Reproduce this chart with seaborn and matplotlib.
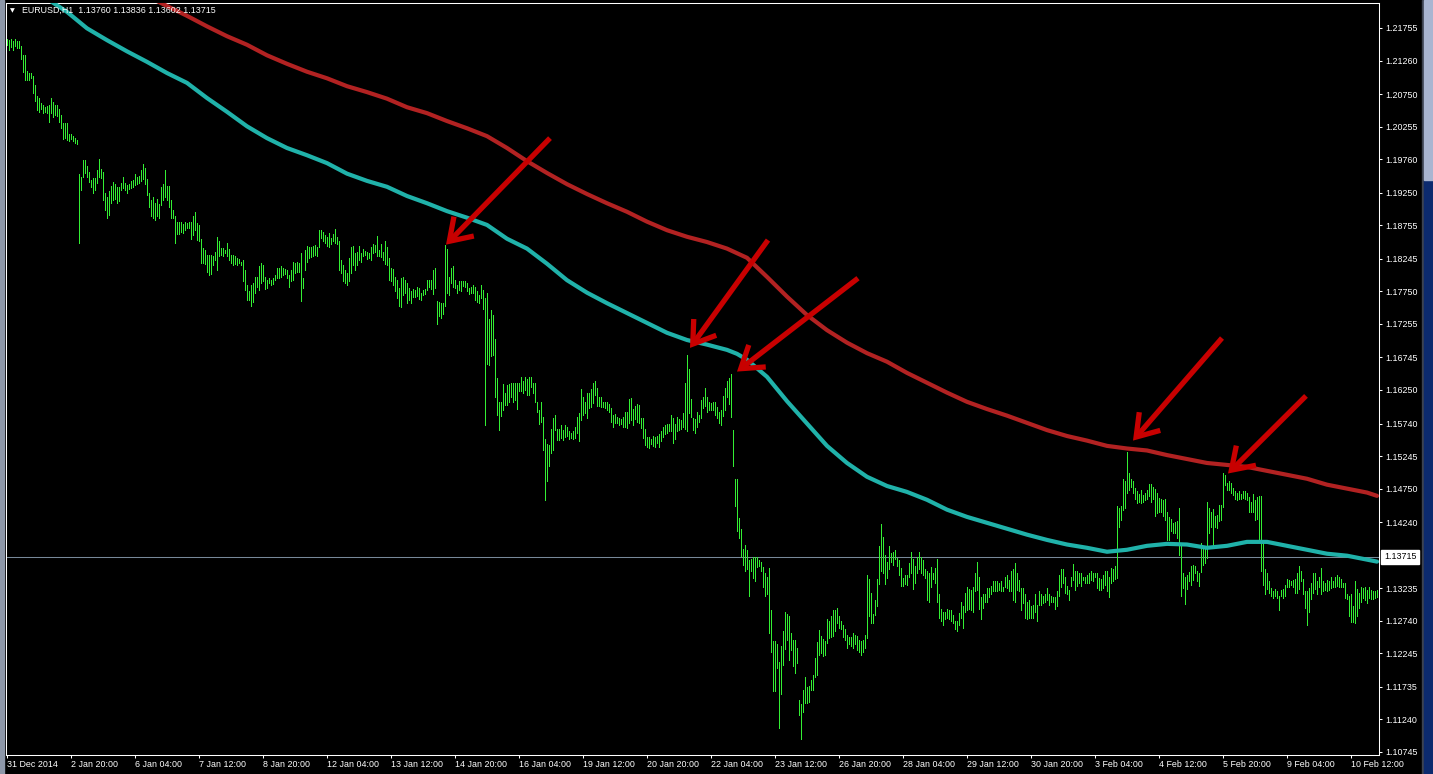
###### Libraries

import pandas as pd
import matplotlib
matplotlib.use("Agg")
import matplotlib.pyplot as plt
from matplotlib.patches import Rectangle
import seaborn as sns

###### Data (EURUSD H1)

high = [
    1.2158, 1.2157, 1.2158, 1.2156, 1.2158, 1.2155, 1.2156, 1.2148, 1.2134, 1.2134,
    1.2110, 1.2107, 1.2107, 1.2102, 1.2089, 1.2072, 1.2069, 1.2061, 1.2058, 1.2055,
    1.2057, 1.2058, 1.2069, 1.2063, 1.2058, 1.2058, 1.2053, 1.2043, 1.2031, 1.2031,
    1.2031, 1.2015, 1.2014, 1.2011, 1.2008, 1.2005, 1.1954, 1.1949, 1.1975, 1.1974,
    1.1966, 1.1957, 1.1944, 1.1947, 1.1947, 1.1960, 1.1976, 1.1961, 1.1957, 1.1925,
    1.1919, 1.1928, 1.1935, 1.1942, 1.1938, 1.1934, 1.1934, 1.1940, 1.1949, 1.1940,
    1.1937, 1.1939, 1.1943, 1.1944, 1.1954, 1.1949, 1.1951, 1.1959, 1.1969, 1.1962,
    1.1946, 1.1924, 1.1914, 1.1919, 1.1910, 1.1915, 1.1908, 1.1933, 1.1939, 1.1959,
    1.1935, 1.1935, 1.1914, 1.1899, 1.1890, 1.1880, 1.1880, 1.1880, 1.1878, 1.1880,
    1.1879, 1.1880, 1.1880, 1.1890, 1.1896, 1.1879, 1.1876, 1.1854, 1.1841, 1.1838,
    1.1830, 1.1830, 1.1830, 1.1828, 1.1835, 1.1857, 1.1851, 1.1841, 1.1841, 1.1838,
    1.1848, 1.1839, 1.1830, 1.1830, 1.1828, 1.1825, 1.1824, 1.1820, 1.1823, 1.1807,
    1.1785, 1.1776, 1.1785, 1.1788, 1.1797, 1.1797, 1.1813, 1.1818, 1.1815, 1.1797,
    1.1793, 1.1795, 1.1793, 1.1796, 1.1800, 1.1810, 1.1810, 1.1813, 1.1810, 1.1809,
    1.1808, 1.1800, 1.1808, 1.1819, 1.1818, 1.1820, 1.1818, 1.1833, 1.1795, 1.1838,
    1.1844, 1.1843, 1.1843, 1.1844, 1.1846, 1.1843, 1.1868, 1.1868, 1.1866, 1.1861,
    1.1858, 1.1863, 1.1856, 1.1862, 1.1870, 1.1857, 1.1852, 1.1823, 1.1815, 1.1808,
    1.1803, 1.1825, 1.1843, 1.1844, 1.1833, 1.1835, 1.1844, 1.1833, 1.1839, 1.1837,
    1.1835, 1.1833, 1.1842, 1.1847, 1.1846, 1.1859, 1.1838, 1.1847, 1.1835, 1.1851,
    1.1843, 1.1825, 1.1810, 1.1809, 1.1797, 1.1792, 1.1780, 1.1795, 1.1797, 1.1793,
    1.1787, 1.1780, 1.1775, 1.1778, 1.1777, 1.1782, 1.1780, 1.1773, 1.1777, 1.1778,
    1.1793, 1.1793, 1.1793, 1.1808, 1.1810, 1.1761, 1.1759, 1.1758, 1.1757, 1.1846,
    1.1839, 1.1797, 1.1810, 1.1814, 1.1793, 1.1785, 1.1791, 1.1790, 1.1791, 1.1790,
    1.1788, 1.1780, 1.1782, 1.1785, 1.1782, 1.1776, 1.1770, 1.1785, 1.1777, 1.1765,
    1.1772, 1.1733, 1.1746, 1.1739, 1.1702, 1.1643, 1.1607, 1.1607, 1.1634, 1.1620,
    1.1633, 1.1634, 1.1636, 1.1636, 1.1636, 1.1635, 1.1636, 1.1645, 1.1639, 1.1645,
    1.1642, 1.1645, 1.1645, 1.1635, 1.1635, 1.1606, 1.1595, 1.1606, 1.1584, 1.1550,
    1.1543, 1.1542, 1.1566, 1.1582, 1.1587, 1.1566, 1.1566, 1.1572, 1.1564, 1.1572,
    1.1569, 1.1562, 1.1560, 1.1562, 1.1568, 1.1584, 1.1590, 1.1626, 1.1615, 1.1607,
    1.1620, 1.1621, 1.1626, 1.1636, 1.1638, 1.1628, 1.1615, 1.1614, 1.1607, 1.1606,
    1.1607, 1.1604, 1.1597, 1.1587, 1.1589, 1.1584, 1.1582, 1.1581, 1.1584, 1.1591,
    1.1592, 1.1611, 1.1613, 1.1596, 1.1600, 1.1604, 1.1602, 1.1582, 1.1582, 1.1566,
    1.1553, 1.1553, 1.1550, 1.1555, 1.1554, 1.1555, 1.1558, 1.1563, 1.1568, 1.1572,
    1.1574, 1.1574, 1.1587, 1.1582, 1.1574, 1.1584, 1.1581, 1.1579, 1.1590, 1.1635,
    1.1678, 1.1657, 1.1611, 1.1582, 1.1581, 1.1592, 1.1587, 1.1610, 1.1615, 1.1628,
    1.1615, 1.1606, 1.1605, 1.1606, 1.1607, 1.1599, 1.1591, 1.1595, 1.1616, 1.1628,
    1.1638, 1.1643, 1.1650, 1.1564, 1.1490, 1.1490, 1.1430, 1.1414, 1.1383, 1.1390,
    1.1381, 1.1366, 1.1368, 1.1371, 1.1371, 1.1371, 1.1367, 1.1364, 1.1356, 1.1346,
    1.1341, 1.1354, 1.1290, 1.1244, 1.1244, 1.1238, 1.1212, 1.1235, 1.1259, 1.1287,
    1.1285, 1.1282, 1.1256, 1.1245, 1.1245, 1.1233, 1.1154, 1.1148, 1.1168, 1.1189,
    1.1174, 1.1175, 1.1184, 1.1192, 1.1217, 1.1241, 1.1260, 1.1251, 1.1246, 1.1243,
    1.1276, 1.1273, 1.1282, 1.1290, 1.1290, 1.1293, 1.1281, 1.1273, 1.1268, 1.1261,
    1.1253, 1.1250, 1.1250, 1.1256, 1.1253, 1.1251, 1.1245, 1.1244, 1.1245, 1.1253,
    1.1344, 1.1337, 1.1316, 1.1285, 1.1306, 1.1337, 1.1387, 1.1421, 1.1402, 1.1374,
    1.1364, 1.1388, 1.1377, 1.1379, 1.1381, 1.1369, 1.1366, 1.1354, 1.1339, 1.1343,
    1.1343, 1.1362, 1.1379, 1.1368, 1.1357, 1.1371, 1.1379, 1.1371, 1.1366, 1.1353,
    1.1350, 1.1347, 1.1356, 1.1347, 1.1354, 1.1368, 1.1314, 1.1292, 1.1288, 1.1288,
    1.1292, 1.1291, 1.1291, 1.1283, 1.1274, 1.1273, 1.1286, 1.1302, 1.1297, 1.1316,
    1.1325, 1.1322, 1.1321, 1.1326, 1.1347, 1.1364, 1.1341, 1.1310, 1.1314, 1.1315,
    1.1324, 1.1324, 1.1327, 1.1335, 1.1334, 1.1334, 1.1331, 1.1334, 1.1326, 1.1341,
    1.1343, 1.1336, 1.1349, 1.1353, 1.1362, 1.1347, 1.1336, 1.1324, 1.1324, 1.1314,
    1.1303, 1.1306, 1.1296, 1.1298, 1.1314, 1.1298, 1.1319, 1.1315, 1.1312, 1.1314,
    1.1324, 1.1314, 1.1311, 1.1310, 1.1310, 1.1319, 1.1343, 1.1352, 1.1353, 1.1341,
    1.1327, 1.1321, 1.1341, 1.1361, 1.1349, 1.1349, 1.1347, 1.1347, 1.1341, 1.1341,
    1.1344, 1.1347, 1.1349, 1.1347, 1.1347, 1.1346, 1.1339, 1.1337, 1.1344, 1.1349,
    1.1350, 1.1341, 1.1354, 1.1353, 1.1357, 1.1448, 1.1445, 1.1448, 1.1490, 1.1486,
    1.1531, 1.1499, 1.1490, 1.1486, 1.1476, 1.1471, 1.1467, 1.1473, 1.1466, 1.1469,
    1.1473, 1.1482, 1.1482, 1.1478, 1.1474, 1.1469, 1.1461, 1.1459, 1.1458, 1.1459,
    1.1440, 1.1432, 1.1429, 1.1423, 1.1424, 1.1425, 1.1445, 1.1391, 1.1347, 1.1341,
    1.1344, 1.1348, 1.1358, 1.1359, 1.1358, 1.1349, 1.1347, 1.1393, 1.1386, 1.1386,
    1.1455, 1.1445, 1.1439, 1.1444, 1.1434, 1.1435, 1.1450, 1.1450, 1.1498, 1.1495,
    1.1483, 1.1486, 1.1484, 1.1476, 1.1471, 1.1469, 1.1471, 1.1467, 1.1471, 1.1471,
    1.1468, 1.1462, 1.1455, 1.1467, 1.1458, 1.1463, 1.1464, 1.1464, 1.1393, 1.1352,
    1.1347, 1.1334, 1.1324, 1.1319, 1.1322, 1.1319, 1.1311, 1.1321, 1.1322, 1.1329,
    1.1337, 1.1336, 1.1335, 1.1336, 1.1337, 1.1347, 1.1358, 1.1349, 1.1337, 1.1320,
    1.1319, 1.1324, 1.1332, 1.1346, 1.1347, 1.1334, 1.1341, 1.1354, 1.1334, 1.1331,
    1.1336, 1.1334, 1.1341, 1.1334, 1.1341, 1.1344, 1.1341, 1.1337, 1.1331, 1.1332,
    1.1315, 1.1312, 1.1314, 1.1297, 1.1335, 1.1322, 1.1316, 1.1325, 1.1324, 1.1325,
    1.1321, 1.1326, 1.1321, 1.1320, 1.1319, 1.1321,
]

low = [
    1.2149, 1.2142, 1.2146, 1.2142, 1.2148, 1.2145, 1.2145, 1.2129, 1.2109, 1.2096,
    1.2096, 1.2097, 1.2099, 1.2077, 1.2065, 1.2051, 1.2047, 1.2052, 1.2046, 1.2048,
    1.2046, 1.2033, 1.2046, 1.2040, 1.2043, 1.2041, 1.2033, 1.2024, 1.2007, 1.2008,
    1.2005, 1.2003, 1.2006, 1.2004, 1.2000, 1.1999, 1.1849, 1.1929, 1.1949, 1.1955,
    1.1949, 1.1942, 1.1934, 1.1924, 1.1929, 1.1940, 1.1949, 1.1947, 1.1914, 1.1899,
    1.1886, 1.1891, 1.1909, 1.1914, 1.1915, 1.1909, 1.1913, 1.1929, 1.1932, 1.1929,
    1.1925, 1.1931, 1.1932, 1.1934, 1.1937, 1.1938, 1.1940, 1.1943, 1.1946, 1.1939,
    1.1922, 1.1904, 1.1889, 1.1886, 1.1883, 1.1889, 1.1886, 1.1906, 1.1914, 1.1919,
    1.1914, 1.1904, 1.1887, 1.1886, 1.1848, 1.1862, 1.1862, 1.1866, 1.1864, 1.1868,
    1.1871, 1.1871, 1.1854, 1.1861, 1.1868, 1.1853, 1.1851, 1.1818, 1.1818, 1.1817,
    1.1805, 1.1800, 1.1802, 1.1815, 1.1823, 1.1808, 1.1829, 1.1830, 1.1829, 1.1833,
    1.1829, 1.1823, 1.1818, 1.1815, 1.1817, 1.1815, 1.1818, 1.1815, 1.1790, 1.1777,
    1.1762, 1.1762, 1.1752, 1.1759, 1.1772, 1.1782, 1.1777, 1.1787, 1.1791, 1.1778,
    1.1780, 1.1787, 1.1785, 1.1786, 1.1792, 1.1795, 1.1795, 1.1797, 1.1800, 1.1802,
    1.1796, 1.1782, 1.1790, 1.1793, 1.1803, 1.1805, 1.1805, 1.1761, 1.1780, 1.1808,
    1.1820, 1.1825, 1.1827, 1.1828, 1.1830, 1.1829, 1.1843, 1.1856, 1.1851, 1.1848,
    1.1844, 1.1843, 1.1847, 1.1851, 1.1848, 1.1847, 1.1808, 1.1803, 1.1791, 1.1787,
    1.1785, 1.1790, 1.1803, 1.1815, 1.1807, 1.1815, 1.1823, 1.1820, 1.1829, 1.1830,
    1.1824, 1.1825, 1.1822, 1.1833, 1.1835, 1.1829, 1.1829, 1.1827, 1.1823, 1.1817,
    1.1815, 1.1792, 1.1790, 1.1785, 1.1775, 1.1765, 1.1753, 1.1751, 1.1770, 1.1772,
    1.1758, 1.1762, 1.1757, 1.1767, 1.1766, 1.1768, 1.1763, 1.1762, 1.1770, 1.1771,
    1.1777, 1.1782, 1.1778, 1.1771, 1.1780, 1.1726, 1.1737, 1.1734, 1.1741, 1.1753,
    1.1772, 1.1770, 1.1788, 1.1782, 1.1780, 1.1773, 1.1777, 1.1775, 1.1783, 1.1782,
    1.1776, 1.1771, 1.1772, 1.1773, 1.1762, 1.1759, 1.1757, 1.1765, 1.1748, 1.1572,
    1.1665, 1.1663, 1.1677, 1.1678, 1.1615, 1.1587, 1.1564, 1.1585, 1.1595, 1.1602,
    1.1602, 1.1606, 1.1615, 1.1607, 1.1610, 1.1596, 1.1623, 1.1624, 1.1620, 1.1625,
    1.1618, 1.1618, 1.1630, 1.1620, 1.1607, 1.1591, 1.1574, 1.1577, 1.1534, 1.1457,
    1.1486, 1.1509, 1.1529, 1.1534, 1.1564, 1.1549, 1.1549, 1.1552, 1.1549, 1.1554,
    1.1555, 1.1550, 1.1552, 1.1551, 1.1552, 1.1559, 1.1548, 1.1580, 1.1587, 1.1590,
    1.1582, 1.1597, 1.1599, 1.1605, 1.1618, 1.1600, 1.1600, 1.1599, 1.1599, 1.1597,
    1.1594, 1.1591, 1.1577, 1.1568, 1.1575, 1.1575, 1.1572, 1.1574, 1.1569, 1.1569,
    1.1567, 1.1575, 1.1580, 1.1572, 1.1581, 1.1577, 1.1575, 1.1567, 1.1552, 1.1542,
    1.1539, 1.1537, 1.1543, 1.1540, 1.1538, 1.1544, 1.1539, 1.1547, 1.1554, 1.1558,
    1.1559, 1.1562, 1.1562, 1.1544, 1.1550, 1.1562, 1.1564, 1.1566, 1.1569, 1.1566,
    1.1562, 1.1590, 1.1584, 1.1564, 1.1559, 1.1569, 1.1577, 1.1582, 1.1597, 1.1600,
    1.1592, 1.1595, 1.1594, 1.1595, 1.1587, 1.1582, 1.1575, 1.1572, 1.1585, 1.1595,
    1.1615, 1.1604, 1.1584, 1.1509, 1.1449, 1.1411, 1.1400, 1.1373, 1.1359, 1.1349,
    1.1352, 1.1312, 1.1349, 1.1339, 1.1335, 1.1356, 1.1357, 1.1349, 1.1326, 1.1311,
    1.1315, 1.1255, 1.1227, 1.1167, 1.1167, 1.1202, 1.1111, 1.1162, 1.1207, 1.1231,
    1.1245, 1.1215, 1.1230, 1.1205, 1.1195, 1.1210, 1.1130, 1.1094, 1.1135, 1.1149,
    1.1149, 1.1151, 1.1168, 1.1169, 1.1189, 1.1192, 1.1222, 1.1225, 1.1220, 1.1222,
    1.1240, 1.1248, 1.1250, 1.1251, 1.1258, 1.1271, 1.1263, 1.1261, 1.1250, 1.1245,
    1.1233, 1.1238, 1.1235, 1.1233, 1.1238, 1.1230, 1.1227, 1.1222, 1.1227, 1.1233,
    1.1248, 1.1281, 1.1271, 1.1271, 1.1283, 1.1296, 1.1330, 1.1349, 1.1347, 1.1330,
    1.1339, 1.1353, 1.1363, 1.1359, 1.1368, 1.1358, 1.1344, 1.1327, 1.1327, 1.1330,
    1.1329, 1.1341, 1.1347, 1.1323, 1.1332, 1.1347, 1.1353, 1.1347, 1.1344, 1.1339,
    1.1305, 1.1303, 1.1326, 1.1337, 1.1331, 1.1303, 1.1278, 1.1273, 1.1268, 1.1276,
    1.1278, 1.1277, 1.1273, 1.1271, 1.1261, 1.1258, 1.1268, 1.1278, 1.1263, 1.1288,
    1.1291, 1.1292, 1.1291, 1.1288, 1.1319, 1.1321, 1.1292, 1.1276, 1.1293, 1.1302,
    1.1303, 1.1310, 1.1314, 1.1319, 1.1320, 1.1319, 1.1321, 1.1319, 1.1319, 1.1325,
    1.1324, 1.1319, 1.1320, 1.1305, 1.1302, 1.1321, 1.1319, 1.1290, 1.1301, 1.1278,
    1.1277, 1.1278, 1.1278, 1.1278, 1.1288, 1.1273, 1.1298, 1.1298, 1.1301, 1.1303,
    1.1306, 1.1298, 1.1302, 1.1302, 1.1292, 1.1296, 1.1311, 1.1325, 1.1332, 1.1317,
    1.1314, 1.1306, 1.1327, 1.1336, 1.1321, 1.1327, 1.1331, 1.1327, 1.1336, 1.1331,
    1.1331, 1.1332, 1.1336, 1.1335, 1.1341, 1.1324, 1.1321, 1.1321, 1.1324, 1.1329,
    1.1320, 1.1310, 1.1331, 1.1334, 1.1337, 1.1339, 1.1417, 1.1428, 1.1442, 1.1445,
    1.1468, 1.1473, 1.1478, 1.1469, 1.1459, 1.1453, 1.1454, 1.1453, 1.1454, 1.1457,
    1.1459, 1.1464, 1.1455, 1.1459, 1.1434, 1.1438, 1.1440, 1.1439, 1.1433, 1.1427,
    1.1397, 1.1397, 1.1410, 1.1408, 1.1408, 1.1400, 1.1374, 1.1312, 1.1324, 1.1300,
    1.1322, 1.1334, 1.1329, 1.1336, 1.1347, 1.1334, 1.1327, 1.1348, 1.1359, 1.1362,
    1.1369, 1.1407, 1.1417, 1.1390, 1.1417, 1.1415, 1.1425, 1.1428, 1.1447, 1.1481,
    1.1473, 1.1473, 1.1469, 1.1466, 1.1459, 1.1458, 1.1459, 1.1459, 1.1461, 1.1459,
    1.1457, 1.1440, 1.1440, 1.1439, 1.1428, 1.1429, 1.1395, 1.1349, 1.1329, 1.1314,
    1.1322, 1.1316, 1.1311, 1.1309, 1.1311, 1.1309, 1.1291, 1.1311, 1.1309, 1.1311,
    1.1326, 1.1326, 1.1329, 1.1326, 1.1316, 1.1316, 1.1322, 1.1334, 1.1314, 1.1293,
    1.1267, 1.1287, 1.1307, 1.1316, 1.1322, 1.1314, 1.1326, 1.1315, 1.1320, 1.1321,
    1.1319, 1.1321, 1.1324, 1.1325, 1.1326, 1.1327, 1.1326, 1.1326, 1.1326, 1.1309,
    1.1307, 1.1282, 1.1272, 1.1272, 1.1270, 1.1281, 1.1293, 1.1302, 1.1309, 1.1306,
    1.1301, 1.1309, 1.1307, 1.1307, 1.1309, 1.1310,
]

# moving averages, read every 10 bars
ma_fast_bar = [20, 30, 40, 50, 60, 70, 80, 90, 100, 110, 120, 130, 140, 150, 160, 170, 180, 190, 200,
               210, 220, 230, 240, 250, 260, 270, 280, 290, 300, 310, 320, 330, 340, 350, 360, 365,
               370, 380, 390, 400, 410, 420, 430, 440, 450, 460, 470, 480, 490, 500, 510, 520, 530,
               540, 550, 560, 570, 580, 590, 600, 610, 620, 630, 640, 650, 660, 670, 680, 685]
ma_fast = [1.2220, 1.2200, 1.2175, 1.2157, 1.2140, 1.2124, 1.2107, 1.2092, 1.2069, 1.2048, 1.2026,
           1.2008, 1.1993, 1.1982, 1.1970, 1.1954, 1.1943, 1.1934, 1.1920, 1.1909, 1.1897, 1.1887,
           1.1876, 1.1855, 1.1840, 1.1817, 1.1792, 1.1773, 1.1757, 1.1742, 1.1727, 1.1712, 1.1701,
           1.1694, 1.1686, 1.1680, 1.1671, 1.1645, 1.1608, 1.1574, 1.1540, 1.1514, 1.1493, 1.1479,
           1.1470, 1.1458, 1.1443, 1.1432, 1.1423, 1.1414, 1.1405, 1.1397, 1.1390, 1.1385, 1.1379,
           1.1382, 1.1388, 1.1391, 1.1390, 1.1385, 1.1388, 1.1394, 1.1394, 1.1388, 1.1382, 1.1376,
           1.1373, 1.1367, 1.1364]

ma_slow_bar = [72, 80, 90, 100, 110, 120, 130, 140, 150, 160, 170, 180, 190, 200, 210, 220, 230, 240,
               250, 260, 270, 280, 290, 300, 310, 320, 330, 340, 350, 360, 370, 380, 390, 400, 410,
               420, 430, 440, 450, 460, 470, 480, 490, 500, 510, 520, 530, 540, 550, 560, 570, 580,
               590, 600, 610, 620, 630, 640, 650, 660, 670, 680, 685]
ma_slow = [1.2221, 1.2209, 1.2194, 1.2178, 1.2163, 1.2150, 1.2134, 1.2121, 1.2109, 1.2099, 1.2087,
           1.2078, 1.2068, 1.2055, 1.2046, 1.2034, 1.2023, 1.2011, 1.1993, 1.1973, 1.1955, 1.1938,
           1.1923, 1.1909, 1.1896, 1.1881, 1.1868, 1.1858, 1.1850, 1.1840, 1.1826, 1.1797, 1.1767,
           1.1739, 1.1716, 1.1697, 1.1681, 1.1668, 1.1651, 1.1636, 1.1621, 1.1607, 1.1596, 1.1586,
           1.1575, 1.1564, 1.1555, 1.1548, 1.1540, 1.1536, 1.1533, 1.1526, 1.1520, 1.1514, 1.1511,
           1.1508, 1.1502, 1.1496, 1.1490, 1.1481, 1.1475, 1.1469, 1.1464]

# hand drawn arrows: (tail bar, tail price, head bar, head price)
arrows = [
    (271.5, 1.2008, 219.5, 1.1846),
    (380.5, 1.1853, 341.5, 1.1689),
    (425.5, 1.1795, 365.0, 1.1653),
    (607.5, 1.1704, 563.0, 1.1548),
    (649.5, 1.1616, 610.5, 1.1498),
]

bid = 1.13715
header = "EURUSD,H1  1.13760 1.13836 1.13602 1.13715"

y_labels = ["1.21755", "1.21260", "1.20750", "1.20255", "1.19760", "1.19250", "1.18755",
            "1.18245", "1.17750", "1.17255", "1.16745", "1.16250", "1.15740", "1.15245",
            "1.14750", "1.14240", "1.13235", "1.12740", "1.12245", "1.11735", "1.11240",
            "1.10745"]

x_labels = ["31 Dec 2014", "2 Jan 20:00", "6 Jan 04:00", "7 Jan 12:00", "8 Jan 20:00",
            "12 Jan 04:00", "13 Jan 12:00", "14 Jan 20:00", "16 Jan 04:00", "19 Jan 12:00",
            "20 Jan 20:00", "22 Jan 04:00", "23 Jan 12:00", "26 Jan 20:00", "28 Jan 04:00",
            "29 Jan 12:00", "30 Jan 20:00", "3 Feb 04:00", "4 Feb 12:00", "5 Feb 20:00",
            "9 Feb 04:00", "10 Feb 12:00"]
bars_per_label = 32

###### Style

sns.set_theme(style="dark", rc={"axes.facecolor": "black", "figure.facecolor": "black",
                                "axes.edgecolor": "white", "axes.grid": False})
plt.rcParams["font.family"] = ["Liberation Sans", "DejaVu Sans"]

BAR = "#33ee33"
FAST = "#20b2aa"
SLOW = "#b22222"
ARROW = "#c80000"
FS = 6.4

W, H = 1433, 774
fig = plt.figure(figsize=(W / 100, H / 100), dpi=100)
ax = fig.add_axes([6 / W, 19 / H, 1373 / W, 752 / H])

###### Price bars

df = pd.DataFrame({"bar": range(len(high)), "high": high, "low": low})
ax.vlines(df["bar"], df["low"], df["high"], color=BAR, linewidth=0.55, antialiased=False, zorder=2)

###### Moving averages

fast = pd.DataFrame({"bar": ma_fast_bar, "price": ma_fast})
slow = pd.DataFrame({"bar": ma_slow_bar, "price": ma_slow})
sns.lineplot(data=fast, x="bar", y="price", ax=ax, color=FAST, linewidth=3.0, estimator=None, zorder=3)
sns.lineplot(data=slow, x="bar", y="price", ax=ax, color=SLOW, linewidth=3.0, estimator=None, zorder=3)

ax.axhline(bid, color="#778899", linewidth=0.75, zorder=1)

for tx, ty, hx, hy in arrows:
    ax.annotate("", xy=(hx, hy), xytext=(tx, ty), xycoords="data", textcoords="data",
                arrowprops=dict(arrowstyle="->,head_length=0.75,head_width=0.5", color=ARROW,
                                lw=3.8, mutation_scale=20, shrinkA=0, shrinkB=0,
                                joinstyle="miter", capstyle="butt"),
                zorder=4)

###### Axes

ax.set_xlim(-0.5, 686)
ax.set_ylim(1.10699, 1.22135)
ax.set_xlabel("")
ax.set_ylabel("")

ax.set_xticks([i * bars_per_label for i in range(len(x_labels))])
ax.set_xticklabels(x_labels)
for lab in ax.get_xticklabels():
    lab.set_horizontalalignment("left")

ax.yaxis.tick_right()
ax.set_yticks([float(v) for v in y_labels])
ax.set_yticklabels(y_labels)

ax.tick_params(axis="both", colors="white", labelsize=FS, length=2.5, width=0.75,
               bottom=True, right=True, left=False, top=False)
ax.tick_params(axis="x", pad=1.2)
ax.tick_params(axis="y", pad=2.0)
for s in ax.spines.values():
    s.set_color("white")
    s.set_linewidth(0.75)

# current price label
ax.text(1.0 + 5 / 1373, bid, "1.13715", transform=ax.get_yaxis_transform(), ha="left",
        va="center", fontsize=FS, color="black",
        bbox=dict(boxstyle="square,pad=0.3", facecolor="white", edgecolor="white"))

# header
fig.text(10 / W, 1 - 10.5 / H, "\u25bc", fontsize=4.5, color="white", va="center",
         family=["DejaVu Sans"])
fig.text(22 / W, 1 - 10.5 / H, header, fontsize=FS, color="white", va="center")

# window frame bits
fig.patches.append(Rectangle((0, 0), 4 / W, 1, transform=fig.transFigure, color="#8d97a8", zorder=0))
fig.patches.append(Rectangle((1422 / W, 0), 2 / W, 1, transform=fig.transFigure, color="#3c4250", zorder=0))
fig.patches.append(Rectangle((1424 / W, 0), 9 / W, 1 - 180 / H, transform=fig.transFigure, color="#0c2a6e", zorder=0))
fig.patches.append(Rectangle((1424 / W, 1 - 180 / H), 9 / W, 180 / H, transform=fig.transFigure, color="#a9b5d1", zorder=0))

fig.savefig("out.png", dpi=100, facecolor="black")
